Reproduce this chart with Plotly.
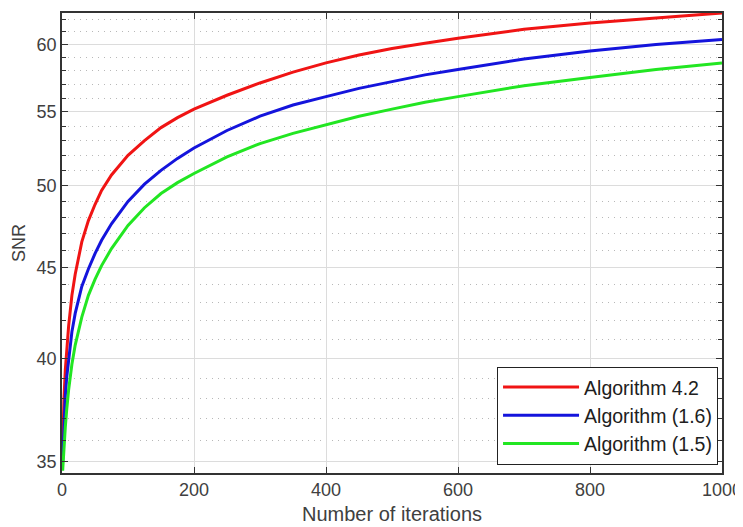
import math
import plotly.graph_objects as go

iterations = [1, 2, 3, 5, 7, 10, 15, 20, 30, 40, 50, 60, 75, 100, 125, 150, 175, 200,
              250, 300, 350, 400, 450, 500, 550, 600, 700, 800, 900, 1000]
snr_alg42 = [35.5, 37.0, 38.0, 39.4, 40.4, 41.7, 43.4, 44.6, 46.5, 47.8, 48.8, 49.7, 50.7, 52.0,
             53.0, 53.9, 54.6, 55.2, 56.2, 57.1, 57.9, 58.6, 59.2, 59.7, 60.1, 60.5, 61.2, 61.7, 62.1, 62.5]
snr_alg16 = [35.0, 36.0, 36.8, 38.1, 39.0, 40.0, 41.4, 42.4, 43.9, 44.9, 45.8, 46.6, 47.6, 49.0,
             50.1, 51.0, 51.8, 52.5, 53.7, 54.7, 55.5, 56.1, 56.7, 57.2, 57.7, 58.1, 58.9, 59.5, 60.0, 60.4]
snr_alg15 = [34.6, 35.2, 35.7, 36.6, 37.4, 38.4, 39.7, 40.7, 42.2, 43.4, 44.3, 45.1, 46.1, 47.5,
             48.6, 49.5, 50.2, 50.8, 51.9, 52.8, 53.5, 54.1, 54.7, 55.2, 55.7, 56.1, 56.9, 57.5, 58.1, 58.6]

names = ["Algorithm 4.2", "Algorithm (1.6)", "Algorithm (1.5)"]
colors = ["#f01414", "#1414dc", "#22e622"]
series = [snr_alg42, snr_alg16, snr_alg15]

x_ticks = [0, 200, 400, 600, 800, 1000]
y_ticks = [35, 40, 45, 50, 55, 60]
y_minor = [v for v in range(35, 63) if v not in y_ticks]

fig = go.Figure()
for name, color, ys in zip(names, colors, series):
    fig.add_trace(go.Scatter(x=iterations, y=ys, mode="lines", name=name,
                             line=dict(color=color, width=3, shape="linear")))

font_family = "Liberation Sans, Arial, sans-serif"
fig.update_layout(
    width=735, height=519,
    margin=dict(l=54, r=21, t=5, b=54),
    paper_bgcolor="white", plot_bgcolor="white",
    font=dict(family=font_family, color="#404040", size=18),
    showlegend=True,
    legend=dict(x=0.994, y=0.018, xanchor="right", yanchor="bottom",
                bgcolor="white", bordercolor="#222222", borderwidth=1,
                font=dict(size=19.5, color="#202020"), itemwidth=76,
                tracegroupgap=0),
    xaxis=dict(range=[0, 1000], tickvals=x_ticks, ticks="inside", ticklen=6,
               tickcolor="#333333", showline=True, linecolor="#333333", linewidth=1.5,
               mirror="ticks", showgrid=True, gridcolor="#dcdcdc", gridwidth=1,
               zeroline=False, automargin=False, tickfont=dict(size=18),
               title=dict(text="Number of iterations", font=dict(size=20), standoff=8)),
    yaxis=dict(type="log", range=[math.log10(34.5), math.log10(62.5)],
               tickvals=y_ticks, ticktext=[str(v) for v in y_ticks],
               ticks="inside", ticklen=6, tickcolor="#333333", tickfont=dict(size=18),
               showline=True, linecolor="#333333", linewidth=1.5, mirror="ticks",
               showgrid=True, gridcolor="#dcdcdc", gridwidth=1, zeroline=False,
               automargin=False,
               minor=dict(tickvals=y_minor, ticks="inside", ticklen=4, tickcolor="#333333",
                          showgrid=True, gridcolor="#b8b8b8", griddash="1px,5px", gridwidth=1.2),
               title=dict(text="SNR", font=dict(size=18), standoff=6)),
)

fig.write_html("out.html")
